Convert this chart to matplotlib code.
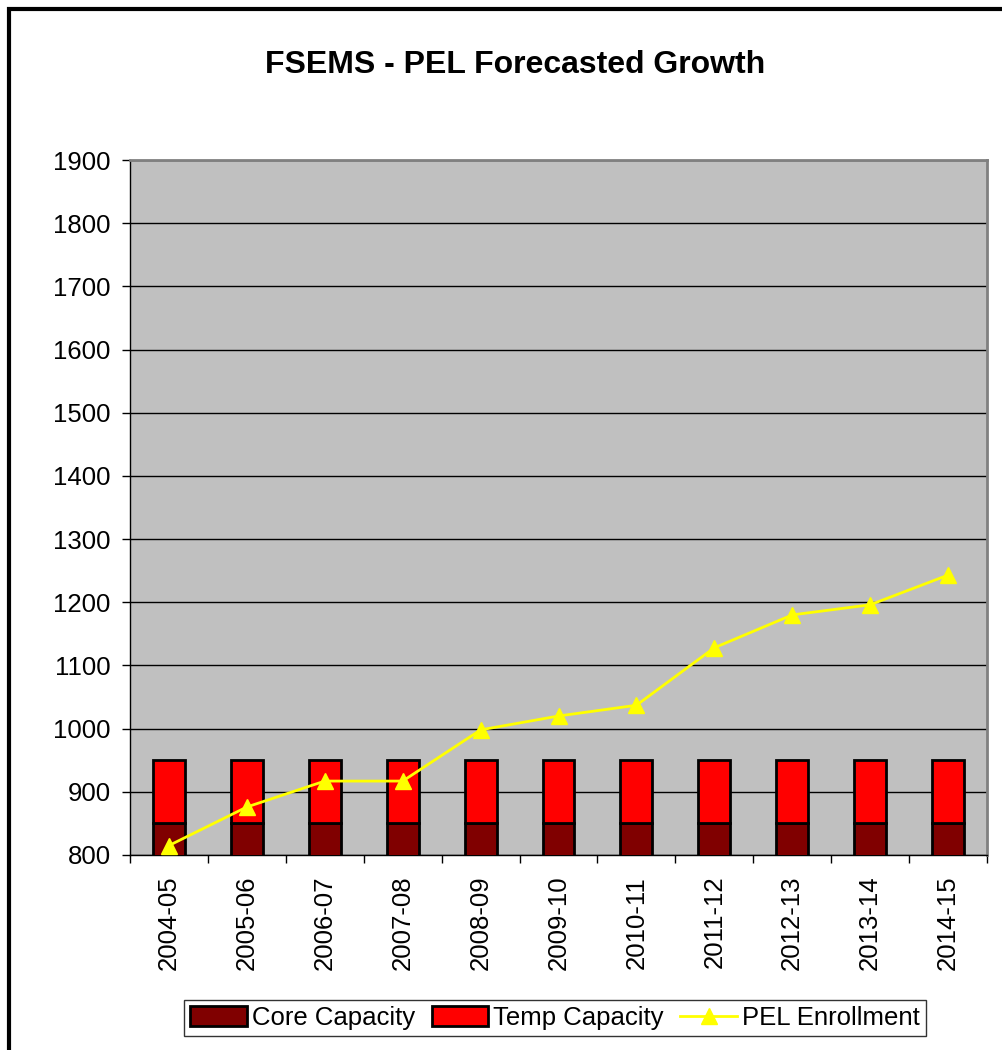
import numpy as np
import matplotlib
matplotlib.use("Agg")
import matplotlib.pyplot as plt
import matplotlib.patches as patches

plt.rcParams['font.family'] = ['Liberation Sans', 'DejaVu Sans']

# data
years = ["2004-05", "2005-06", "2006-07", "2007-08", "2008-09", "2009-10",
         "2010-11", "2011-12", "2012-13", "2013-14", "2014-15"]
core_capacity = [850, 850, 850, 850, 850, 850, 850, 850, 850, 850, 850]
temp_capacity = [100, 100, 100, 100, 100, 100, 100, 100, 100, 100, 100]
pel_enrollment = [815, 876, 917, 917, 998, 1020, 1037, 1128, 1180, 1196, 1243]

W, H = 1003, 1050
fig = plt.figure(figsize=(W / 100, H / 100), dpi=100)
fig.patch.set_facecolor("white")

# plot area in pixel coords
left, right, top, bottom = 130, 987, 160, 855
ax = fig.add_axes([left / W, 1 - bottom / H, (right - left) / W, (bottom - top) / H])
ax.set_facecolor("#C0C0C0")

x = np.arange(len(years))
b1 = ax.bar(x, core_capacity, width=0.41, color="#800000", edgecolor="black",
            linewidth=2, label="Core Capacity", zorder=3)
b2 = ax.bar(x, temp_capacity, width=0.41, bottom=core_capacity, color="#FF0000",
            edgecolor="black", linewidth=2, label="Temp Capacity", zorder=3)
ln, = ax.plot(x, pel_enrollment, color="#FFFF00", linewidth=2, marker="^",
              markersize=12, markeredgecolor="#FFFF00", label="PEL Enrollment", zorder=4)

ax.set_ylim(800, 1900)
ax.set_xlim(-0.5, len(years) - 0.5)
ax.set_yticks(np.arange(800, 1901, 100))
ax.yaxis.grid(True, color="black", linewidth=1)
ax.set_axisbelow(True)

ax.set_xticks(x)
ax.set_xticklabels(years, rotation=90, fontsize=18.5)
ax.set_xticks(np.arange(-0.5, len(years), 1), minor=True)
ax.tick_params(axis="x", which="major", length=0, pad=15)
ax.tick_params(axis="x", which="minor", length=6, width=1, direction="out", color="black")
ax.tick_params(axis="y", labelsize=18.5, length=6, width=1, direction="out", pad=8)

for s in ["top", "right"]:
    ax.spines[s].set_color("#808080")
    ax.spines[s].set_linewidth(2)
for s in ["left", "bottom"]:
    ax.spines[s].set_color("black")
    ax.spines[s].set_linewidth(1)

fig.text(515 / W, 1 - 65 / H, "FSEMS - PEL Forecasted Growth", ha="center", va="center",
         fontsize=23, fontweight="bold")

leg = fig.legend([b1, b2, ln], ["Core Capacity", "Temp Capacity", "PEL Enrollment"],
                 loc="center", bbox_to_anchor=(555 / W, 1 - 1018 / H), ncol=3,
                 fontsize=18.5, frameon=True, fancybox=False, edgecolor="black",
                 handlelength=2.2, handleheight=0.8, handletextpad=0.2,
                 columnspacing=0.65, borderpad=0.25, borderaxespad=0)
leg.get_frame().set_linewidth(1)

# outer chart border
fig.patches.append(patches.Rectangle((9 / W, -0.05), 1.2, 1 - 9 / H + 0.05,
                                     transform=fig.transFigure, fill=False,
                                     edgecolor="black", linewidth=3))

fig.savefig("out.png", dpi=100)
